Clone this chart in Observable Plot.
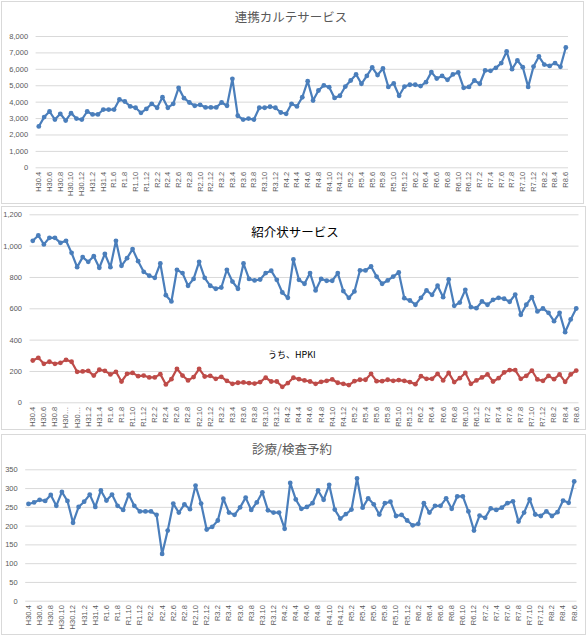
<!DOCTYPE html>
<html>
<head>
<meta charset="utf-8">
<script src="https://cdn.jsdelivr.net/npm/d3@7"></script>
<script src="https://cdn.jsdelivr.net/npm/@observablehq/plot@0.6"></script>
<style>
  body { margin: 0; background: #fff; }
  #page { position: relative; width: 588px; height: 639px; overflow: hidden; background: #fff; }
  .panel { position: absolute; }
  .panel svg { position: absolute; left: 0; top: 0; }
  .frame { position: absolute; inset: 0; border: 1px solid #d9d9d9; pointer-events: none; }
  .title { position: absolute; transform: translateX(-50%); font-family: "Noto Sans CJK JP", sans-serif;
           font-size: 12.5px; line-height: 1; color: #595959; white-space: nowrap; }
  .note { position: absolute; font-family: "Noto Sans CJK JP", sans-serif; font-size: 9px; line-height: 1; color: #000; white-space: nowrap; }
</style>
</head>
<body>
<div id="page"></div>
<script>
// Monthly categories, April 2018 (H30.4) to June 2026 (R8.6)
const months = [
  "H30.4","H30.5","H30.6","H30.7","H30.8","H30.9","H30.10","H30.11","H30.12",
  "H31.1","H31.2","H31.3","H31.4",
  "R1.5","R1.6","R1.7","R1.8","R1.9","R1.10","R1.11","R1.12",
  "R2.1","R2.2","R2.3","R2.4","R2.5","R2.6","R2.7","R2.8","R2.9","R2.10","R2.11","R2.12",
  "R3.1","R3.2","R3.3","R3.4","R3.5","R3.6","R3.7","R3.8","R3.9","R3.10","R3.11","R3.12",
  "R4.1","R4.2","R4.3","R4.4","R4.5","R4.6","R4.7","R4.8","R4.9","R4.10","R4.11","R4.12",
  "R5.1","R5.2","R5.3","R5.4","R5.5","R5.6","R5.7","R5.8","R5.9","R5.10","R5.11","R5.12",
  "R6.1","R6.2","R6.3","R6.4","R6.5","R6.6","R6.7","R6.8","R6.9","R6.10","R6.11","R6.12",
  "R7.1","R7.2","R7.3","R7.4","R7.5","R7.6","R7.7","R7.8","R7.9","R7.10","R7.11","R7.12",
  "R8.1","R8.2","R8.3","R8.4","R8.5","R8.6"
];

// 連携カルテサービス
const karteValues = [
  2520,3090,3430,2940,3290,2880,3330,3000,2940,3430,3250,3250,3550,3550,3550,4160,4040,3740,3660,3350,
  3590,3900,3660,4300,3660,3900,4870,4240,3980,3780,3840,3680,3680,3680,3980,3780,5420,3170,2940,3000,
  2940,3660,3660,3720,3660,3370,3290,3900,3740,4300,5280,4100,4710,5020,4910,4260,4390,4950,5320,5690,
  5120,5600,6110,5650,6050,4930,5140,4390,4950,5060,5060,4980,5220,5830,5440,5600,5360,5690,5810,4870,
  4930,5320,5120,5930,5910,6090,6380,7090,6010,6540,6130,4930,6170,6780,6290,6210,6380,6150,7330
];

// 紹介状サービス (total)
const referralValues = [
  1034,1068,1011,1053,1053,1021,1034,957,866,930,900,936,862,951,866,1034,874,923,981,904,
  836,811,798,889,687,647,849,828,747,791,900,798,747,728,736,849,774,728,889,791,
  781,787,828,843,785,704,670,915,785,760,828,717,791,779,779,828,713,670,711,845,
  845,870,806,760,781,806,832,668,653,626,670,717,689,747,674,787,619,640,721,611,
  604,647,626,657,670,664,645,691,562,626,674,583,602,574,521,574,451,532,602
];

// 紹介状サービス, うち HPKI
const hpkiValues = [
  270,287,249,262,249,255,274,262,198,200,204,174,211,204,181,198,136,185,191,170,
  174,162,162,183,117,151,217,174,143,164,217,168,172,153,166,140,121,128,130,126,
  123,132,160,136,136,102,126,160,151,143,136,121,134,140,149,128,121,113,138,147,
  147,185,138,138,147,140,145,140,132,119,170,153,153,185,143,191,132,157,191,121,
  143,162,181,136,157,194,209,209,153,172,206,149,140,172,151,181,134,181,206
];

// 診療/検査予約
const bookingValues = [
  259,263,270,267,283,254,291,267,209,251,265,284,251,295,268,284,254,243,284,254,
  239,239,239,230,126,188,260,236,258,245,308,260,191,198,215,273,236,230,250,276,
  243,263,290,242,236,236,193,315,271,246,251,261,295,270,310,244,220,232,244,327,
  249,274,258,231,261,265,227,230,215,202,206,261,236,254,254,274,246,279,279,239,
  188,228,222,247,243,249,261,266,212,236,271,231,227,239,227,237,268,262,319
];

const karteTicks = [0,1000,2000,3000,4000,5000,6000,7000,8000];
const referralTicks = [0,200,400,600,800,1000,1200];
const bookingTicks = [0,50,100,150,200,250,300,350];

const BLUE = "#4a7ebb";
const RED = "#be4b48";
const AXIS_TEXT = "#595959";
const GRID = "#d9d9d9";
const TICK_FONT = "Liberation Sans, Arial, sans-serif";

const monthTicks = months.filter((d, i) => i % 2 === 0);
const rows = (values) => months.map((m, i) => ({month: m, value: values[i]}));

const page = document.getElementById("page");

function panel({left, top, width, height, margin, ticks, yMax, yFormat, series, xFormat}) {
  const div = document.createElement("div");
  div.className = "panel";
  Object.assign(div.style, {left: left + "px", top: top + "px", width: width + "px", height: height + "px"});
  const marks = [
    Plot.gridY(ticks, {stroke: GRID, strokeOpacity: 1, strokeWidth: 1}),
    Plot.axisY(ticks, {label: null, tickSize: 0, tickPadding: 8, tickFormat: yFormat, fontSize: 7.5, fill: AXIS_TEXT, fontFamily: TICK_FONT}),
    Plot.axisX(monthTicks, {label: null, tickSize: 0, tickPadding: 4, tickRotate: -90, tickFormat: xFormat, fontSize: 7.5, fill: AXIS_TEXT, fontFamily: TICK_FONT})
  ];
  for (const s of series) {
    const data = rows(s.values);
    marks.push(Plot.line(data, {x: "month", y: "value", stroke: s.color, strokeWidth: 2.2}));
    marks.push(Plot.dot(data, {x: "month", y: "value", r: 2.4, fill: s.color, stroke: "none"}));
  }
  const svg = Plot.plot({
    width, height,
    marginLeft: margin[0], marginRight: margin[1], marginTop: margin[2], marginBottom: margin[3],
    style: {background: "transparent", overflow: "visible"},
    x: {type: "point", domain: months, padding: 0.5, label: null},
    y: {domain: [0, yMax], label: null},
    marks
  });
  div.appendChild(svg);
  const frame = document.createElement("div");
  frame.className = "frame";
  div.appendChild(frame);
  page.appendChild(div);
}

function label(cls, text, x, y, color) {
  const el = document.createElement("div");
  el.className = cls;
  el.textContent = text;
  el.style.left = x + "px";
  el.style.top = y + "px";
  if (color) el.style.color = color;
  page.appendChild(el);
}

panel({
  left: 1, top: 1, width: 583, height: 203,
  margin: [34.6, 16, 35, 36.7],
  ticks: karteTicks, yMax: 8000, yFormat: d3.format(","),
  series: [{values: karteValues, color: BLUE}],
  xFormat: d => d
});

panel({
  left: 1, top: 206, width: 585, height: 224,
  margin: [28.5, 7.5, 8.3, 27.7],
  ticks: referralTicks, yMax: 1200, yFormat: d3.format(","),
  series: [{values: referralValues, color: BLUE}, {values: hpkiValues, color: RED}],
  xFormat: d => d.length > 5 ? d.slice(0, 3) + "…" : d
});

panel({
  left: 1, top: 434, width: 585, height: 201,
  margin: [24.2, 9.5, 35.3, 34.3],
  ticks: bookingTicks, yMax: 350, yFormat: d => String(d),
  series: [{values: bookingValues, color: BLUE}],
  xFormat: d => d
});

label("title", "連携カルテサービス", 291, 11);
label("title", "紹介状サービス", 295, 226, "#000");
label("title", "診療/検査予約", 292, 443);
label("note", "うち、HPKI", 268, 350);
</script>
</body>
</html>
